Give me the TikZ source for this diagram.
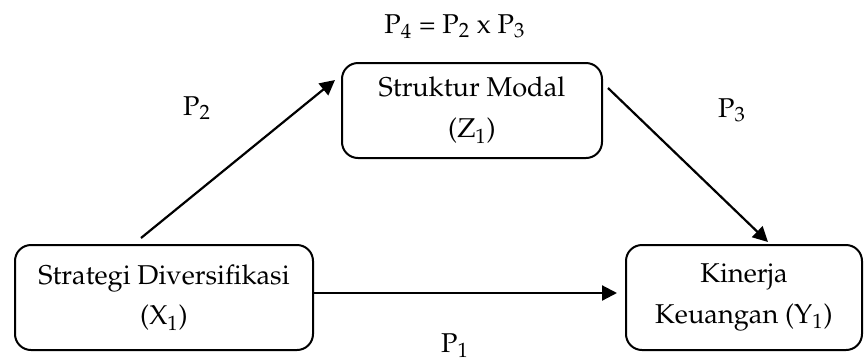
\documentclass[tikz,border=0pt]{standalone}
\usepackage[T1]{fontenc}
\usepackage{mathpazo}
\usetikzlibrary{arrows.meta}
\tikzset{
  box/.style={draw, line width=1pt, rounded corners=8pt, align=center, inner sep=0pt,
    font=\fontsize{13.6pt}{20.5pt}\selectfont},
  lab/.style={inner sep=0pt, font=\fontsize{13.6pt}{16pt}\selectfont},
  arr/.style={line width=1.1pt, -{Triangle[length=7.5pt,width=7.5pt]}}
}
\begin{document}
\begin{tikzpicture}[x=0.5pt,y=-0.5pt]
\useasboundingbox (0,0) rectangle (864,361);
\node[box, minimum width=149pt, minimum height=52.5pt] (X) at (164,297.5) {Strategi Diversifikasi\\(X$_1$)};
\node[box, minimum width=118pt, minimum height=52.5pt] (Y) at (744,297.5) {Kinerja\\Keuangan (Y$_1$)};
\node[box, minimum width=130pt, minimum height=47.5pt] (Z) at (472,110.5) {Struktur Modal\\(Z$_1$)};
\coordinate (p2s) at (141,238);
\coordinate (p2e) at (335,80);
\coordinate (p3s) at (608,88);
\coordinate (p3e) at (768,242);
\coordinate (p1s) at (313,293);
\coordinate (p1e) at (617,293);
\draw[arr] (p2s) -- (p2e);
\draw[arr] (p3s) -- (p3e);
\draw[arr] (p1s) -- (p1e);
\node[lab, anchor=base] (l4) at (455,33) {P$_4$ = P$_2$ x P$_3$};
\node[lab, anchor=base] (l2) at (197,115) {P$_2$};
\node[lab, anchor=base] (l3) at (732,117) {P$_3$};
\node[lab, anchor=base] (l1) at (455,352) {P$_1$};
\end{tikzpicture}
\end{document}
